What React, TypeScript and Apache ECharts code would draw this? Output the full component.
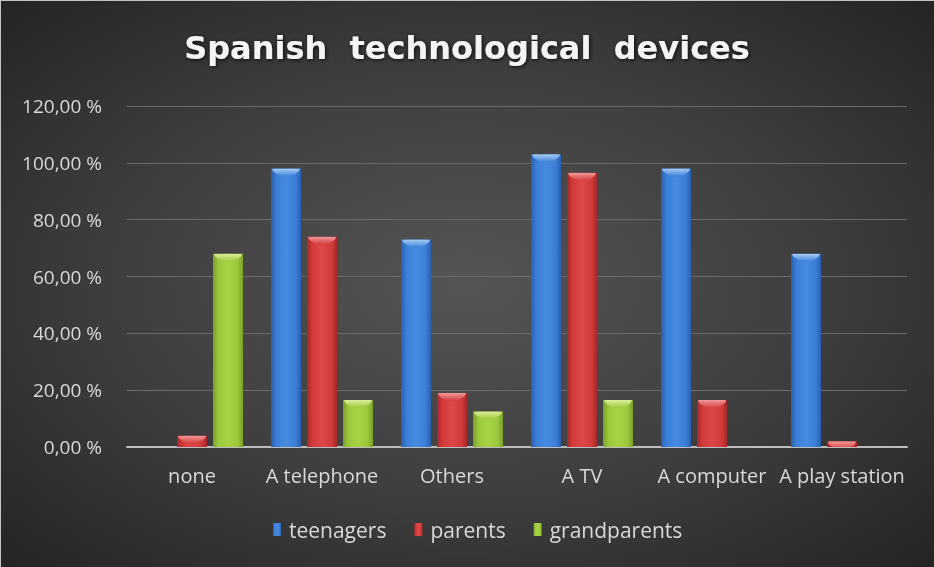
import React, { useEffect, useRef } from "react";
import * as echarts from "echarts";

const categories = ["none", "A telephone", "Others", "A TV", "A computer", "A play station"];
const seriesNames = ["teenagers", "parents", "grandparents"];
const teenagers = [0, 98, 73, 103, 98, 68];
const parents = [4, 74, 19, 96.5, 16.5, 2];
const grandparents = [68, 16.5, 12.5, 16.5, 0, 0];
const yTicks = { min: 0, max: 120, interval: 20 };

const FONT = "'Open Sans', 'Noto Sans', sans-serif";
const TITLE_FONT = "'DejaVu Sans', 'Open Sans', sans-serif";

const palettes = [
  { edge: "#2a5fae", mid: "#3b7fd8", light: "#468ce0", top: "#b5d6f7" },
  { edge: "#a52828", mid: "#d33a3a", light: "#de4848", top: "#f5a3a3" },
  { edge: "#7a9f2a", mid: "#9bc73a", light: "#a8d346", top: "#e2f3a6" },
];

function barGradient(p: any) {
  return new echarts.graphic.LinearGradient(0, 0, 1, 0, [
    { offset: 0, color: p.edge },
    { offset: 0.18, color: p.mid },
    { offset: 0.5, color: p.light },
    { offset: 0.82, color: p.mid },
    { offset: 1, color: p.edge },
  ]);
}

function topGradient(p: any) {
  return new echarts.graphic.LinearGradient(0, 0, 0, 1, [
    { offset: 0, color: p.top },
    { offset: 1, color: p.mid },
  ]);
}

export default function App() {
  const ref = useRef<HTMLDivElement>(null);

  useEffect(() => {
    if (!ref.current) return;
    const chart = echarts.init(ref.current, undefined, { renderer: "svg" });
    const datasets = [teenagers, parents, grandparents];
    const barSeries = datasets.map((d, i) => ({
      name: seriesNames[i],
      type: "bar",
      data: d,
      barWidth: 30,
      barGap: "20%",
      itemStyle: { color: barGradient(palettes[i]) },
      z: 2,
    }));
    const capSeries = datasets.map((d, i) => ({
      name: seriesNames[i] + " cap",
      type: "pictorialBar",
      data: d.map((v) => (v > 0 ? v : "-")),
      barWidth: 30,
      barGap: "20%",
      symbol: "path://M0,0 L100,0 L96,25 Q50,110 4,25 Z",
      symbolSize: [28, 8],
      symbolPosition: "end",
      symbolClip: true,
      itemStyle: { color: topGradient(palettes[i]), opacity: 0.9 },
      z: 3,
      silent: true,
    }));

    chart.setOption({
      animation: false,
      backgroundColor: "transparent",
      title: {
        text: "Spanish  technological  devices",
        left: "center",
        top: 27,
        textStyle: {
          fontFamily: TITLE_FONT,
          fontSize: 32,
          fontWeight: "bold",
          color: "#f4f4f4",
          textShadowColor: "rgba(0,0,0,0.8)",
          textShadowBlur: 4,
          textShadowOffsetX: 1,
          textShadowOffsetY: 1,
        },
      },
      legend: {
        data: seriesNames,
        top: 514,
        left: 268,
        icon: "rect",
        itemWidth: 8,
        itemHeight: 13,
        itemGap: 28,
        textStyle: { fontFamily: FONT, fontSize: 21, color: "#d9d9d9", padding: [0, 0, 0, 3] },
      },
      grid: { left: 127, right: 27, top: 106, bottom: 120, containLabel: false },
      xAxis: {
        type: "category",
        data: categories,
        axisLine: { lineStyle: { color: "#bdbdbd", width: 2 } },
        axisTick: { show: false },
        axisLabel: {
          interval: 0,
          hideOverlap: false,
          margin: 18,
          fontFamily: FONT,
          fontSize: 20,
          color: "#d9d9d9",
        },
      },
      yAxis: {
        type: "value",
        min: yTicks.min,
        max: yTicks.max,
        interval: yTicks.interval,
        axisLine: { show: false },
        axisTick: { show: false },
        splitLine: { lineStyle: { color: "#6a6a6a", width: 1 } },
        axisLabel: {
          margin: 25,
          fontFamily: FONT,
          fontSize: 19,
          color: "#d9d9d9",
          formatter: (v: number) => v.toFixed(2).replace(".", ",") + " %",
        },
      },
      series: [...barSeries, ...capSeries],
    });
    return () => chart.dispose();
  }, []);

  return (
    <div
      style={{
        position: "fixed",
        left: 0,
        top: 0,
        width: 934,
        height: 567,
        background: "radial-gradient(ellipse at 50% 50%, #555555 0%, #3d3d3d 55%, #242424 100%)",
        boxShadow: "inset 1px 1px 0 #c4c4c4",
      }}
    >
      <div ref={ref} style={{ width: 934, height: 567 }} />
    </div>
  );
}
